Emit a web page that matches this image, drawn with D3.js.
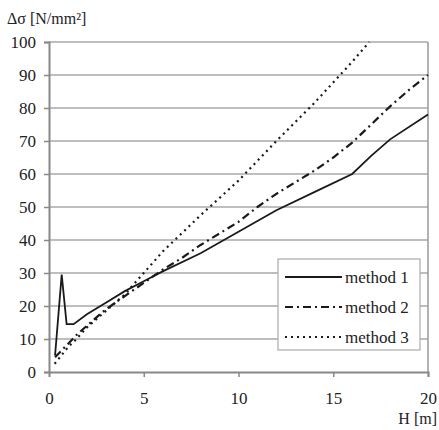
<!DOCTYPE html>
<html>
<head>
<meta charset="utf-8">
<script src="https://cdn.jsdelivr.net/npm/d3@7"></script>
<style>
  body { margin: 0; background: #fff; }
  svg text { font-family: "Times New Roman", "Liberation Serif", "DejaVu Serif", serif; fill: #222; }
</style>
</head>
<body>
<div id="chart"></div>
<script>
// Data
const method1H = [0.32, 0.67, 0.93, 1.3, 2, 3, 4, 5, 6, 8, 10, 12, 14, 16, 17, 18, 20];
const method1V = [5, 29.5, 14.5, 14.5, 17.5, 21, 24.5, 27.5, 30.5, 36, 42.5, 49, 54.5, 60, 65.5, 70.5, 78];

const method2H = [0.32, 1, 1.5, 2, 3, 4, 5, 6, 7, 8, 9, 10, 11, 12, 13, 14, 15, 16, 17, 18, 19, 20];
const method2V = [4.5, 8.5, 11.5, 14, 19, 23, 27, 31, 34.5, 38.5, 42, 45.5, 50, 54, 57.5, 61, 65, 69.5, 75, 80.5, 85.5, 90];

const method3H = [0.3, 1, 1.4, 2, 3, 4, 5, 6, 7, 8, 10, 12, 14, 16, 16.9];
const method3V = [2.5, 7.5, 9.7, 13.5, 18.5, 23.5, 30, 36.5, 42, 47.5, 58, 70, 81.5, 94, 100];

const seriesNames = ["method 1", "method 2", "method 3"];
const xTicks = [0, 5, 10, 15, 20];
const yTicks = [0, 10, 20, 30, 40, 50, 60, 70, 80, 90, 100];

const dashes = ["none", "8,4,2,4", "2,4"];
const serif = '"Times New Roman", "Liberation Serif", "DejaVu Serif", serif';

const W = 439, H = 430;
const margin = {top: 42, right: 11, bottom: 58, left: 49};
const width = W - margin.left - margin.right;
const height = H - margin.top - margin.bottom;

const svg = d3.select("#chart").append("svg")
    .attr("width", W)
    .attr("height", H);

const g = svg.append("g")
    .attr("transform", `translate(${margin.left},${margin.top})`);

const x = d3.scaleLinear().domain([0, 20]).range([0, width]);
const y = d3.scaleLinear().domain([0, 100]).range([height, 0]);

// Gridlines
g.selectAll(".grid")
    .data(yTicks.filter(d => d > 0))
    .enter().append("line")
    .attr("x1", 0).attr("x2", width)
    .attr("y1", d => y(d)).attr("y2", d => y(d))
    .attr("stroke", "#a8a8a8")
    .attr("stroke-width", 1.5);

// Right border
g.append("line")
    .attr("x1", width).attr("x2", width)
    .attr("y1", 0).attr("y2", height)
    .attr("stroke", "#999").attr("stroke-width", 1.5);

// Axes
const yAxis = g.append("g")
    .call(d3.axisLeft(y).tickValues(yTicks).tickSize(5).tickPadding(8));
const xAxis = g.append("g")
    .attr("transform", `translate(0,${height})`)
    .call(d3.axisBottom(x).tickValues(xTicks).tickSize(5).tickPadding(15));

[yAxis, xAxis].forEach(a => {
    a.attr("font-family", serif);
    a.select(".domain").attr("stroke", "#888").attr("stroke-width", 2);
    a.selectAll(".tick line").attr("stroke", "#888").attr("stroke-width", 1.5);
    a.selectAll(".tick text")
        .style("font-family", serif)
        .style("font-size", "17px")
        .attr("fill", "#222");
});
xAxis.selectAll(".tick").filter(d => d === 0).select("line").remove();

// Lines
const allData = [
    method1H.map((h, i) => [h, method1V[i]]),
    method2H.map((h, i) => [h, method2V[i]]),
    method3H.map((h, i) => [h, method3V[i]])
];

const line = d3.line().x(d => x(d[0])).y(d => y(d[1]));

allData.forEach((d, i) => {
    g.append("path")
        .datum(d)
        .attr("fill", "none")
        .attr("stroke", "#1a1a1a")
        .attr("stroke-width", i === 0 ? 1.8 : 2.2)
        .attr("stroke-dasharray", dashes[i])
        .attr("d", line);
});

// Legend
const legend = svg.append("g").attr("transform", "translate(278,259)");
legend.append("rect")
    .attr("width", 142).attr("height", 91)
    .attr("fill", "#fff")
    .attr("stroke", "#aaa").attr("stroke-width", 1.2);

seriesNames.forEach((name, i) => {
    const yy = 18 + i * 30;
    legend.append("line")
        .attr("x1", 7).attr("x2", 64)
        .attr("y1", yy).attr("y2", yy)
        .attr("stroke", "#1a1a1a")
        .attr("stroke-width", i === 0 ? 1.8 : 2.2)
        .attr("stroke-dasharray", dashes[i]);
    legend.append("text")
        .attr("x", 67).attr("y", yy + 6)
        .style("font-family", serif)
        .style("font-size", "17px")
        .text(name);
});

// Axis titles
svg.append("text")
    .attr("x", 7).attr("y", 24)
    .style("font-family", serif)
    .style("font-size", "16px")
    .text("Δσ [N/mm²]");

svg.append("text")
    .attr("x", 437).attr("y", 424)
    .attr("text-anchor", "end")
    .style("font-family", serif)
    .style("font-size", "16px")
    .text("H [m]");
</script>
</body>
</html>
